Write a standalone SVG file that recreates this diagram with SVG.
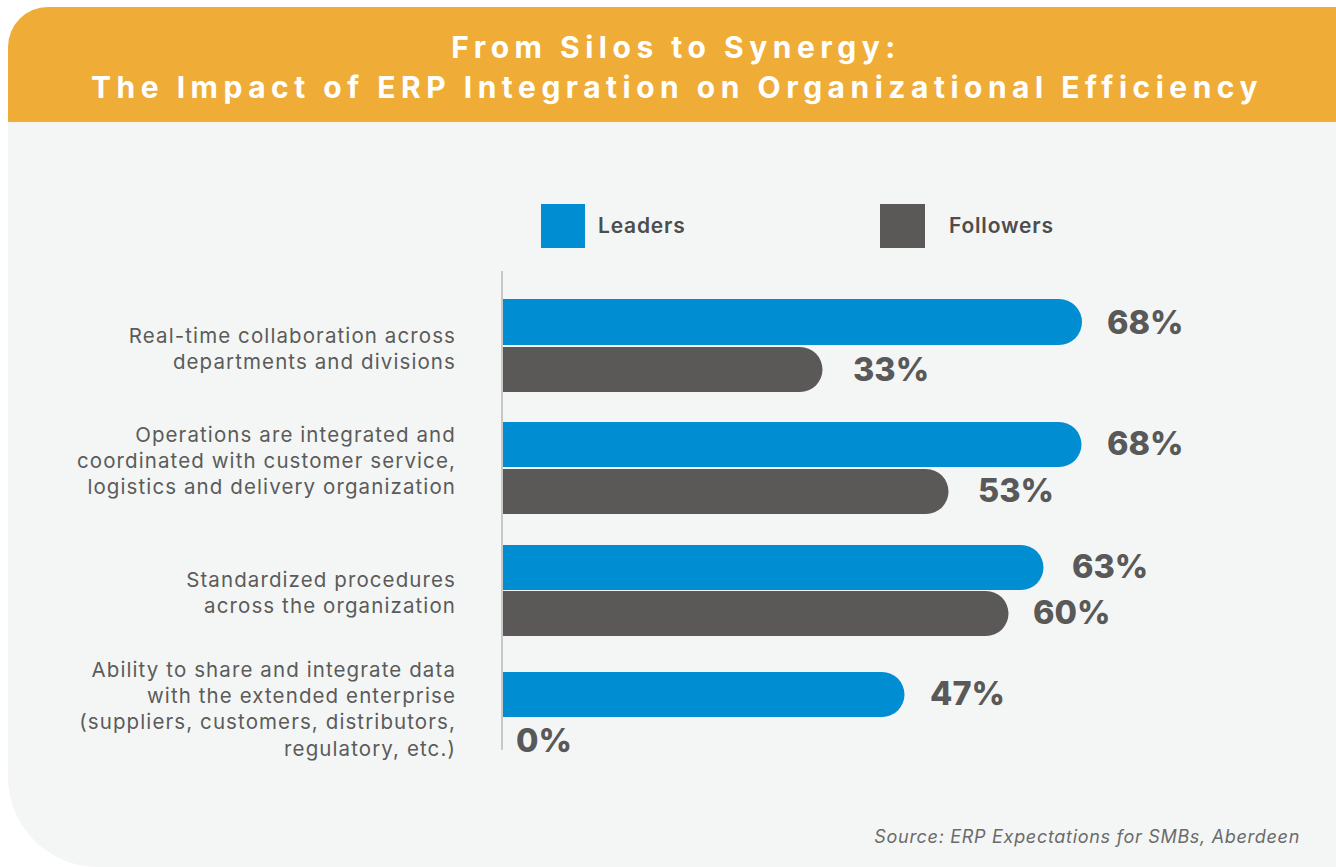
<svg xmlns="http://www.w3.org/2000/svg" width="1336" height="867" viewBox="0 0 1336 867">
<style>
.title{font-family:Inter,"Open Sans","Liberation Sans",sans-serif;font-weight:700;font-size:30px;fill:#ffffff;letter-spacing:5.5px;text-anchor:middle}
.cat{font-family:Inter,"Open Sans","Liberation Sans",sans-serif;font-size:20.5px;fill:#5b5b5b;text-anchor:end;letter-spacing:1.1px}
.leg{font-family:Inter,"Open Sans","Liberation Sans",sans-serif;font-weight:600;font-size:21px;fill:#4d4d4d;letter-spacing:0.8px}
.val{font-family:Inter,"Open Sans","Liberation Sans",sans-serif;font-weight:800;font-size:32.5px;fill:#595959}
.src{font-family:Inter,"Open Sans","Liberation Sans",sans-serif;font-style:italic;font-size:18px;fill:#6b6b6b;text-anchor:end;letter-spacing:0.7px}
.lead{fill:#008dd2}
.foll{fill:#5a5958}
</style>
<rect width="1336" height="867" fill="#ffffff"/>
<g id="card">
<path d="M8,47 A40,40 0 0 1 48,7 L1336,7 L1336,867 L98,867 A90,90 0 0 1 8,777 Z" fill="#f4f6f5"/>
<path d="M8,47 A40,40 0 0 1 48,7 L1336,7 L1336,122 L8,122 Z" fill="#efad37"/>
</g>
<g id="title">
<text class="title" x="676" y="58">From Silos to Synergy:</text>
<text class="title" x="677" y="98">The Impact of ERP Integration on Organizational Efficiency</text>
</g>
<g id="legend">
<rect class="lead" x="541" y="204" width="44" height="44"/>
<text class="leg" x="598" y="233">Leaders</text>
<rect class="foll" x="880" y="204" width="45" height="44"/>
<text class="leg" x="949" y="233">Followers</text>
</g>
<g id="axis">
<line x1="502" y1="271" x2="502" y2="750" stroke="#c8c8c8" stroke-width="2"/>
</g>
<g id="row1">
<text class="cat" x="456" y="343">Real-time collaboration across</text>
<text class="cat" x="456" y="369">departments and divisions</text>
<path class="lead" d="M503,299 H1059 A23,23 0 0 1 1059,345 H503 Z"/>
<path class="foll" d="M503,347 H800 A22.5,22.5 0 0 1 800,392 H503 Z"/>
<text class="val" x="1107" y="334">68%</text>
<text class="val" x="853" y="381">33%</text>
</g>
<g id="row2">
<text class="cat" x="456" y="442">Operations are integrated and</text>
<text class="cat" x="456" y="468">coordinated with customer service,</text>
<text class="cat" x="456" y="494">logistics and delivery organization</text>
<path class="lead" d="M503,422 H1059 A22.5,22.5 0 0 1 1059,467 H503 Z"/>
<path class="foll" d="M503,469 H926 A22.5,22.5 0 0 1 926,514 H503 Z"/>
<text class="val" x="1107" y="455">68%</text>
<text class="val" x="978" y="502">53%</text>
</g>
<g id="row3">
<text class="cat" x="456" y="587">Standardized procedures</text>
<text class="cat" x="456" y="613">across the organization</text>
<path class="lead" d="M503,545 H1021 A22.5,22.5 0 0 1 1021,590 H503 Z"/>
<path class="foll" d="M503,591 H986 A22.5,22.5 0 0 1 986,636 H503 Z"/>
<text class="val" x="1072" y="578">63%</text>
<text class="val" x="1033" y="624">60%</text>
</g>
<g id="row4">
<text class="cat" x="456" y="677">Ability to share and integrate data</text>
<text class="cat" x="456" y="703">with the extended enterprise</text>
<text class="cat" x="456" y="729">(suppliers, customers, distributors,</text>
<text class="cat" x="456" y="756">regulatory, etc.)</text>
<path class="lead" d="M503,672 H882 A22.5,22.5 0 0 1 882,717 H503 Z"/>
<text class="val" x="930" y="705">47%</text>
<text class="val" x="516" y="752">0%</text>
</g>
<g id="source">
<text class="src" x="1300" y="843">Source: ERP Expectations for SMBs, Aberdeen</text>
</g>
</svg>
